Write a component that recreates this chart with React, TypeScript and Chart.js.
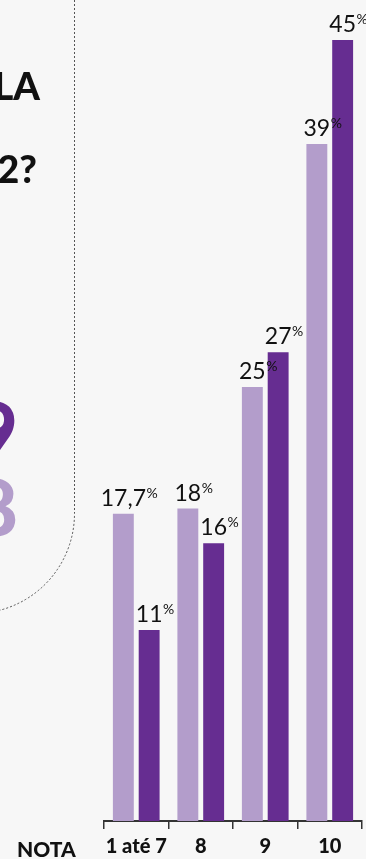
import React, { useEffect, useRef } from "react";
import { Chart, registerables } from "chart.js";

Chart.register(...registerables);

// ---- data ----
const categories = ["1 até 7", "8", "9", "10"];
const seriesNames = ["2018", "2019"];
const seriesLight = [17.7, 18, 25, 39];
const seriesDark = [11, 16, 27, 45];
const axisTitle = "NOTA";
const sideLines = ["LA", "2?"];

const LIGHT = "#b39dcb";
const DARK = "#662d91";
const BG = "#f7f7f7";
const FONT = "Lato, 'Open Sans', sans-serif";

const decorPlugin = {
  id: "decor",
  beforeDraw(chart: any) {
    const ctx = chart.ctx;
    ctx.save();
    ctx.fillStyle = BG;
    ctx.fillRect(0, 0, chart.width, chart.height);

    // dotted rounded panel edge
    const px = 74.5;
    const pb = 613.5;
    const r = 100;
    ctx.beginPath();
    ctx.setLineDash([2, 2]);
    ctx.lineWidth = 1;
    ctx.strokeStyle = "#555";
    ctx.moveTo(px, 0);
    ctx.lineTo(px, pb - r);
    ctx.arc(px - r, pb - r, r, 0, Math.PI / 2);
    ctx.lineTo(-10, pb);
    ctx.stroke();
    ctx.setLineDash([]);

    // cropped panel text
    ctx.fillStyle = "#111";
    ctx.textAlign = "right";
    ctx.textBaseline = "alphabetic";
    ctx.font = `900 38px ${FONT}`;
    ctx.fillText(sideLines[0], 40, 100);
    ctx.fillText(sideLines[1], 37, 183);

    ctx.font = `900 78px ${FONT}`;
    ctx.fillStyle = DARK;
    ctx.fillText(seriesNames[1], 18, 459);
    ctx.fillStyle = LIGHT;
    ctx.fillText(seriesNames[0], 18, 536);

    // axis title
    ctx.fillStyle = "#111";
    ctx.textAlign = "left";
    ctx.font = `900 21px ${FONT}`;
    ctx.fillText(axisTitle, 17, 857);
    ctx.restore();
  },
  afterDatasetsDraw(chart: any) {
    const ctx = chart.ctx;
    ctx.save();
    ctx.fillStyle = "#111";
    ctx.textBaseline = "alphabetic";
    chart.data.datasets.forEach((ds: any, di: number) => {
      const meta = chart.getDatasetMeta(di);
      meta.data.forEach((bar: any, i: number) => {
        const v = ds.data[i];
        const txt = String(v).replace(".", ",");
        ctx.font = `400 23px ${FONT}`;
        const w = ctx.measureText(txt).width;
        const base = bar.y - 8;
        ctx.textAlign = "center";
        ctx.fillText(txt, bar.x, base);
        ctx.font = `400 14px ${FONT}`;
        ctx.textAlign = "left";
        ctx.fillText("%", bar.x + w / 2 + 0.5, base - 8);
      });
    });
    ctx.restore();
  },
};

export default function App() {
  const ref = useRef<HTMLCanvasElement | null>(null);

  useEffect(() => {
    if (!ref.current) return;
    const chart = new Chart(ref.current, {
      type: "bar",
      data: {
        labels: categories,
        datasets: [
          {
            label: seriesNames[0],
            data: seriesLight,
            backgroundColor: LIGHT,
            categoryPercentage: 0.8,
            barPercentage: 0.81,
          },
          {
            label: seriesNames[1],
            data: seriesDark,
            backgroundColor: DARK,
            categoryPercentage: 0.8,
            barPercentage: 0.81,
          },
        ],
      },
      options: {
        animation: false,
        responsive: false,
        maintainAspectRatio: false,
        layout: { padding: { left: 104, right: 4, top: 0, bottom: -6 } },
        plugins: {
          legend: { display: false },
          tooltip: { enabled: false },
        },
        scales: {
          y: { display: false, min: 0, max: 47.3 },
          x: {
            offset: true,
            grid: {
              offset: true,
              drawOnChartArea: false,
              drawTicks: true,
              tickLength: 8,
              color: "#333",
              lineWidth: 1.5,
            },
            border: { display: true, color: "#333", width: 2 },
            ticks: {
              color: "#111",
              padding: 6,
              autoSkip: false,
              maxRotation: 0,
              minRotation: 0,
              font: { family: FONT, size: 20, weight: "900" as any },
            },
          },
        },
      },
      plugins: [decorPlugin],
    });
    return () => chart.destroy();
  }, []);

  return (
    <div
      style={{
        position: "fixed",
        left: 0,
        top: 0,
        width: 366,
        height: 859,
        background: BG,
        overflow: "hidden",
      }}
    >
      <canvas ref={ref} width={366} height={859} style={{ display: "block" }} />
    </div>
  );
}
